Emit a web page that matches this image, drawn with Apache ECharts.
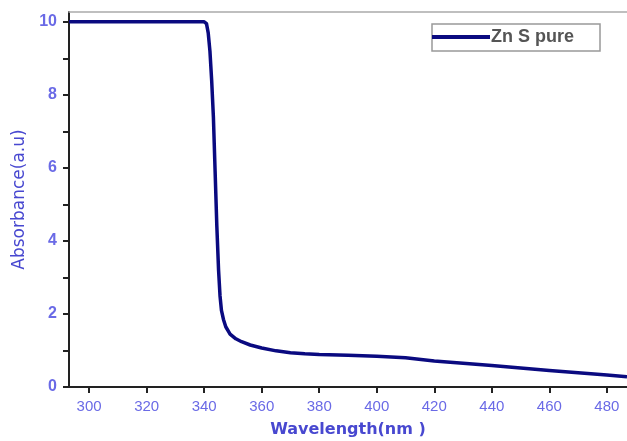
<!DOCTYPE html>
<html>
<head>
<meta charset="utf-8">
<script src="https://cdn.jsdelivr.net/npm/echarts@6/dist/echarts.min.js"></script>
<style>
html,body{margin:0;padding:0;background:#fff;}
#chart{width:627px;height:441px;}
</style>
</head>
<body>
<div id="chart"></div>
<script>
// wavelength (nm) and absorbance
var wavelengths = [293, 300, 310, 320, 330, 340, 340.8, 341.4, 342, 342.6, 343.2, 343.8, 344.4, 345, 345.5, 346, 346.7, 347.5, 349, 351, 353, 356, 360, 365, 370, 375, 380, 390, 400, 410, 420, 430, 440, 450, 460, 470, 480, 487];
var absorbance = [10, 10, 10, 10, 10, 10, 9.95, 9.7, 9.2, 8.4, 7.4, 5.9, 4.4, 3.2, 2.5, 2.1, 1.85, 1.65, 1.45, 1.32, 1.24, 1.15, 1.07, 0.99, 0.94, 0.91, 0.89, 0.87, 0.84, 0.8, 0.71, 0.65, 0.59, 0.52, 0.45, 0.39, 0.33, 0.28];
var xTicks = [300, 320, 340, 360, 380, 400, 420, 440, 460, 480];
var yTicks = [0, 2, 4, 6, 8, 10];
var seriesName = 'Zn S pure';

function pairs(xs, ys) {
	var out = [];
	for (var k in xs) {
		out[k] = [xs[k], ys[k]];
	}
	return out;
}

var labelColor = '#6a6ae6';
var nameColor = '#4848d0';
var lineColor = '#0a0a80';

var myChart = echarts.init(document.getElementById('chart'));
var option = {
	animation: false,
	grid: {
		left: 69,
		right: 0,
		top: 12,
		bottom: 54,
		containLabel: false,
		outerBoundsMode: 'none'
	},
	legend: {
		data: [seriesName],
		left: 432,
		top: 24,
		padding: [4, 26, 5, 0],
		icon: 'rect',
		itemWidth: 58,
		itemHeight: 4,
		itemGap: 0,
		itemStyle: {color: lineColor},
		borderColor: '#999',
		borderWidth: 1.5,
		textStyle: {
			color: '#555',
			fontFamily: 'Liberation Sans',
			fontSize: 18,
			fontWeight: 'bold',
			padding: [0, 0, 0, -4]
		}
	},
	xAxis: [{
		type: 'value',
		min: 293,
		max: 487,
		name: 'Wavelength(nm )',
		nameLocation: 'middle',
		nameGap: 35,
		nameTextStyle: {
			color: nameColor,
			fontFamily: 'DejaVu Sans',
			fontSize: 16,
			fontWeight: 'bold'
		},
		axisLine: {show: true, onZero: false, lineStyle: {color: '#222', width: 2}},
		axisTick: {show: true, inside: false, length: 6, lineStyle: {color: '#222', width: 2},
			customValues: xTicks},
		axisLabel: {
			color: labelColor,
			fontFamily: 'Liberation Sans',
			fontSize: 15,
			margin: 12,
			customValues: xTicks
		},
		splitLine: {show: false}
	}, {
		type: 'value',
		position: 'top',
		min: 293,
		max: 487,
		axisLine: {show: true, onZero: false, lineStyle: {color: '#aaa', width: 1.5}},
		axisTick: {show: false},
		axisLabel: {show: false},
		splitLine: {show: false}
	}],
	yAxis: {
		type: 'value',
		min: 0,
		max: 10.27,
		name: 'Absorbance(a.u)',
		nameLocation: 'middle',
		nameGap: 37,
		nameTextStyle: {
			color: nameColor,
			fontFamily: 'DejaVu Sans',
			fontSize: 17
		},
		axisLine: {show: true, lineStyle: {color: '#222', width: 2}},
		axisTick: {show: true, length: 6, lineStyle: {color: '#222', width: 2},
			customValues: [0, 1, 2, 3, 4, 5, 6, 7, 8, 9, 10]},
		axisLabel: {
			color: labelColor,
			fontFamily: 'Liberation Sans',
			fontSize: 16,
			fontWeight: 'bold',
			margin: 12,
			customValues: yTicks
		},
		splitLine: {show: false}
	},
	series: [{
		name: seriesName,
		type: 'line',
		xAxisIndex: 0,
		data: pairs(wavelengths, absorbance),
		symbol: 'none',
		smooth: false,
		lineStyle: {color: lineColor, width: 3.5, join: 'round'},
		itemStyle: {color: lineColor}
	}]
};
myChart.setOption(option);
</script>
</body>
</html>
